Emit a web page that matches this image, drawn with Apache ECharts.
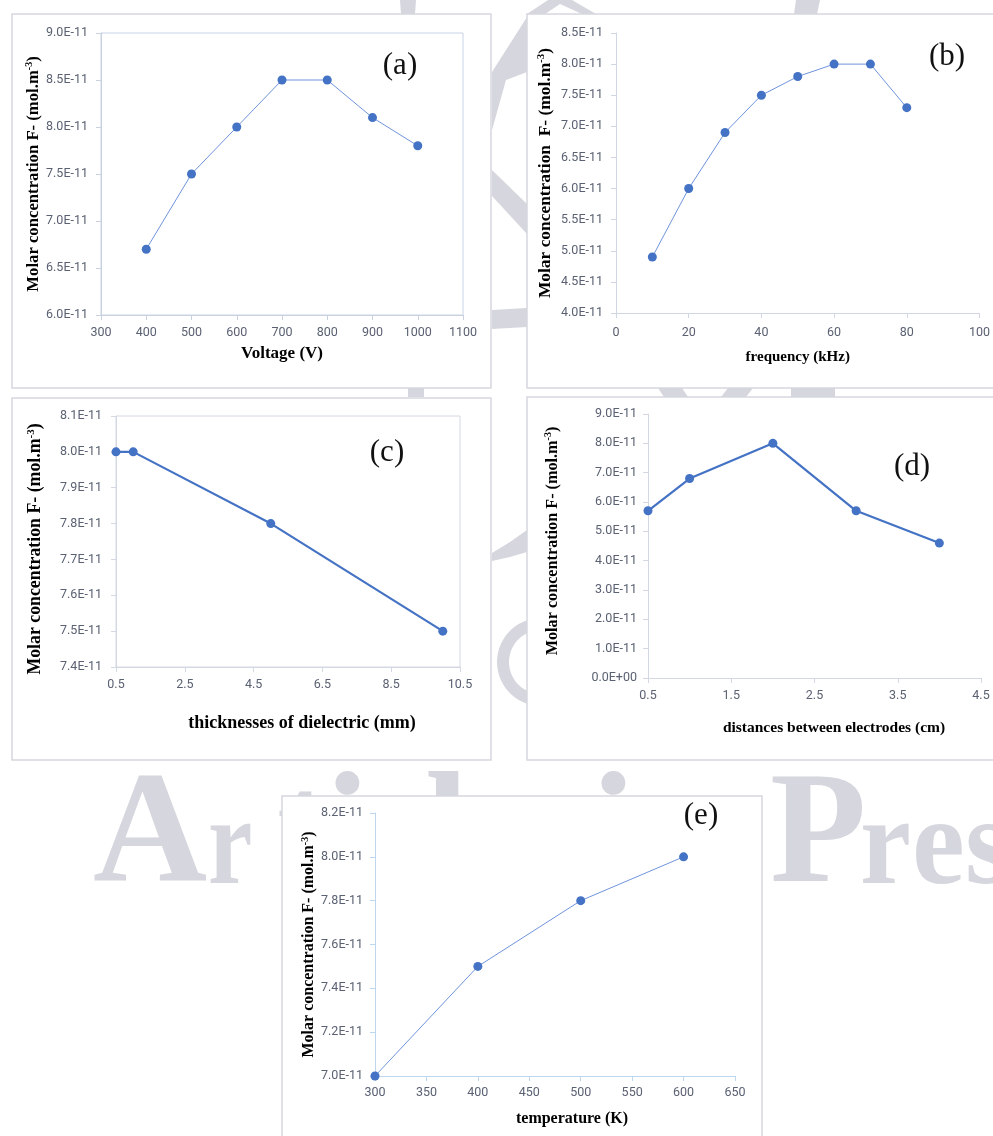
<!DOCTYPE html>
<html>
<head>
<meta charset="utf-8">
<script src="https://cdn.jsdelivr.net/npm/echarts@6/dist/echarts.min.js"></script>
<style>
html,body{margin:0;padding:0;background:#fff;}
#chart{width:993px;height:1136px;}
</style>
</head>
<body>
<div id="chart"></div>
<script>
// ---------- DATA ----------
var voltage = [400, 500, 600, 700, 800, 900, 1000];
var concVoltage = [6.7e-11, 7.5e-11, 8.0e-11, 8.5e-11, 8.5e-11, 8.1e-11, 7.8e-11];

var frequency = [10, 20, 30, 40, 50, 60, 70, 80];
var concFrequency = [4.9e-11, 6.0e-11, 6.9e-11, 7.5e-11, 7.8e-11, 8.0e-11, 8.0e-11, 7.3e-11];

var thickness = [0.5, 1, 5, 10];
var concThickness = [8.0e-11, 8.0e-11, 7.8e-11, 7.5e-11];

var distance = [0.5, 1, 2, 3, 4];
var concDistance = [5.7e-11, 6.8e-11, 8.0e-11, 5.7e-11, 4.6e-11];

var temperature = [300, 400, 500, 600];
var concTemperature = [7.0e-11, 7.5e-11, 7.8e-11, 8.0e-11];

var panelLabels = ['(a)', '(b)', '(c)', '(d)', '(e)'];
var xTitles = ['Voltage (V)', 'frequency (kHz)', 'thicknesses of dielectric (mm)', 'distances between electrodes (cm)', 'temperature (K)'];
var watermarkLetters = ['A', 'r', 't', 'i', 'c', 'l', 'e', 'i', 'n', 'P', 'r', 'e', 's', 's'];

// ---------- HELPERS ----------
function zip(xs, ys) { return xs.map(function (x, i) { return [x, ys[i]]; }); }
function sci(v) {
  if (Math.abs(v) < 1e-20) return '0.0E+00';
  var s = v.toExponential(1).split('e');
  var sign = s[1].charAt(0);
  var d = s[1].slice(1);
  if (d.length < 2) d = '0' + d;
  return s[0] + 'E' + sign + d;
}
function plain(v) { return String(Math.round(v * 1000) / 1000); }
var TICK_FONT = 'Roboto';
var SERIF = '"Liberation Serif", "Times New Roman", serif';
var TICK_COLOR = '#5a6172';
var BLUE = '#4472c4';
var WM = '#d6d6de';

function yName(extraSpace) {
  return '{b|Molar concentration ' + (extraSpace ? ' ' : '') + 'F- (mol.m}{s|-3}{b|)}';
}
function yNameStyle(size, padding) {
  return {
    color: '#000',
    padding: padding || 0,
    rich: {
      b: { fontFamily: SERIF, fontWeight: 'bold', fontSize: size, color: '#000', lineHeight: size + 2 },
      s: { fontFamily: SERIF, fontWeight: 'bold', fontSize: Math.round(size * 0.62), color: '#000', verticalAlign: 'top', lineHeight: size + 2 }
    }
  };
}
function xNameStyle(size, padding) {
  return { fontFamily: SERIF, fontWeight: 'bold', fontSize: size, color: '#000', padding: padding || 0 };
}
function xAxisDef(gi, min, max, interval, name, gap, size, lineColor, margin, pad) {
  return {
    type: 'value', gridIndex: gi, min: min, max: max, interval: interval,
    name: name, nameLocation: 'middle', nameGap: gap, nameTextStyle: xNameStyle(size, pad),
    axisLine: { show: true, lineStyle: { color: lineColor, width: 1 } },
    axisTick: { show: true, length: 5, lineStyle: { color: lineColor } },
    axisLabel: { color: TICK_COLOR, fontFamily: TICK_FONT, fontSize: 12.5, margin: margin, formatter: plain },
    splitLine: { show: false }
  };
}
function yAxisDef(gi, min, max, interval, gap, size, lineColor, margin, pad, extraSpace) {
  return {
    type: 'value', gridIndex: gi, min: min, max: max, interval: interval,
    name: yName(extraSpace), nameLocation: 'middle', nameGap: gap, nameRotate: 90,
    nameTextStyle: yNameStyle(size, pad),
    axisLine: { show: true, lineStyle: { color: lineColor, width: 1 } },
    axisTick: { show: true, length: 5, lineStyle: { color: lineColor } },
    axisLabel: { color: TICK_COLOR, fontFamily: TICK_FONT, fontSize: 12.5, margin: margin, formatter: sci },
    splitLine: { show: false }
  };
}
function lineSeries(i, data, width, color) {
  return {
    type: 'line', xAxisIndex: i, yAxisIndex: i, data: data,
    symbol: 'circle', symbolSize: 9, showSymbol: true,
    lineStyle: { color: color, width: width },
    itemStyle: { color: BLUE, borderWidth: 0 },
    z: 5, animation: false
  };
}

// ---------- WATERMARK + FRAMES ----------
var gfx = [];
// watermark letters: x position, font size, horizontal squeeze (baseline ~ y 888)
var wmLayout = [
  [93, 158, 1], [208, 125, 0.8], [277, 158, 1], [325, 158, 1], [360, 125, 1], [425, 158, 1], [460, 125, 1],
  [591, 158, 1], [625, 125, 1], [770, 158, 1], [860, 125, 0.92], [912, 125, 0.95], [965, 125, 0.95], [1010, 125, 0.95]
];
watermarkLetters.forEach(function (ch, i) {
  var L = wmLayout[i];
  gfx.push({ type: 'text', x: L[0], y: 888 - 0.8 * L[1], scaleX: L[2], z: -30, silent: true,
    style: { text: ch, font: 'bold ' + L[1] + 'px ' + SERIF, fill: WM } });
});
// logo strokes visible through gaps between panels
function poly(pts) { gfx.push({ type: 'polygon', z: -30, silent: true, shape: { points: pts }, style: { fill: WM } }); }
poly([[400, 0], [416, 0], [415, 14], [401, 14]]);
poly([[527, 14], [548, 0], [572, 0], [596, 14], [582, 14], [560, 4], [545, 14]]);
poly([[796, 0], [820, 0], [817, 14], [794, 14]]);
poly([[527, 17], [527, 72], [506, 80], [492, 130], [492, 72]]);
poly([[492, 170], [527, 204], [527, 234], [492, 196]]);
poly([[492, 310], [527, 308], [527, 327], [492, 329]]);
poly([[408, 388], [424, 388], [424, 397], [408, 397]]);
poly([[658, 388], [682, 388], [688, 397], [664, 397]]);
poly([[728, 388], [753, 388], [746, 397], [721, 397]]);
poly([[791, 388], [835, 388], [835, 397], [791, 397]]);
poly([[492, 553], [510, 542], [527, 530], [527, 552], [510, 557], [492, 561]]);
// "C"-shaped piece of the logo, clipped to the gap (x <= 527)
(function () {
  var cx = 541, cy = 662, R = 44, r = 32, edge = 527, pts = [], k;
  var aO = Math.acos((edge - cx) / R), aI = Math.acos((edge - cx) / r);
  for (k = 0; k <= 24; k++) { var t = aO + (2 * Math.PI - 2 * aO) * k / 24; pts.push([cx + R * Math.cos(t), cy - R * Math.sin(t)]); }
  for (k = 24; k >= 0; k--) { var u = aI + (2 * Math.PI - 2 * aI) * k / 24; pts.push([cx + r * Math.cos(u), cy - r * Math.sin(u)]); }
  poly(pts);
})();

// panel frames
function frame(x, y, w, h) {
  gfx.push({ type: 'rect', z: -20, silent: true, shape: { x: x, y: y, width: w, height: h },
    style: { fill: '#fff', stroke: '#d5d8de', lineWidth: 1.5 } });
}
frame(12, 14, 479, 374);
frame(527, 14, 480, 374);
frame(12, 398, 479, 362);
frame(527, 397, 480, 363);
frame(282, 796, 480, 350);

// panel labels
var labelPos = [[400, 66], [947, 57], [387, 453], [912, 467], [701, 816]];
panelLabels.forEach(function (t, i) {
  gfx.push({ type: 'text', x: labelPos[i][0], y: labelPos[i][1], z: 50, silent: true,
    style: { text: t, font: '31px ' + SERIF, fill: '#111', align: 'center', verticalAlign: 'middle' } });
});

// ---------- CHART ----------
var chart = echarts.init(document.getElementById('chart'), null, { renderer: 'canvas' });
var option = {
  backgroundColor: '#fff',
  animation: false,
  graphic: { elements: gfx },
  grid: [
    { left: 101, top: 33, width: 362, height: 282, show: true, borderColor: '#c8d2e8', borderWidth: 1, backgroundColor: 'transparent' },
    { left: 616, top: 33, width: 366, height: 280 },
    { left: 116, top: 416, width: 344, height: 251, show: true, borderColor: '#d3d8e2', borderWidth: 1, backgroundColor: 'transparent' },
    { left: 648, top: 414, width: 333, height: 264 },
    { left: 375, top: 813, width: 360, height: 263 }
  ],
  xAxis: [
    xAxisDef(0, 300, 1100, 100, xTitles[0], 30, 17, '#c9d0de', 11),
    xAxisDef(1, 0, 100, 20, xTitles[1], 37, 15, '#d0d6e2', 13),
    xAxisDef(2, 0.5, 10.5, 2, xTitles[2], 47, 18, '#d3d8e2', 11, [0, 0, 0, 28]),
    xAxisDef(3, 0.5, 4.5, 1, xTitles[3], 42, 15.5, '#d3d8e2', 11, [0, 0, 0, 39]),
    xAxisDef(4, 300, 650, 50, xTitles[4], 35, 16, '#bdd7ee', 10, [0, 0, 0, 34])
  ],
  yAxis: [
    yAxisDef(0, 6.0e-11, 9.0e-11, 0.5e-11, 58, 16.7, '#c9d0de', 13),
    yAxisDef(1, 4.0e-11, 8.5e-11, 0.5e-11, 61, 17.4, '#d0d6e2', 13, 0, true),
    yAxisDef(2, 7.4e-11, 8.1e-11, 0.1e-11, 71, 17.8, '#d3d8e2', 14, [0, 15, 0, 0]),
    yAxisDef(3, 0, 9.0e-11, 1.0e-11, 86, 16.2, '#d3d8e2', 11, [0, 0, 0, 10]),
    yAxisDef(4, 7.0e-11, 8.2e-11, 0.2e-11, 55, 16, '#bdd7ee', 12)
  ],
  series: [
    lineSeries(0, zip(voltage, concVoltage), 1, '#6f94dc'),
    lineSeries(1, zip(frequency, concFrequency), 1, '#6f94dc'),
    lineSeries(2, zip(thickness, concThickness), 2.2, BLUE),
    lineSeries(3, zip(distance, concDistance), 2.2, BLUE),
    lineSeries(4, zip(temperature, concTemperature), 1, '#6f94dc')
  ]
};
chart.setOption(option);
</script>
</body>
</html>
